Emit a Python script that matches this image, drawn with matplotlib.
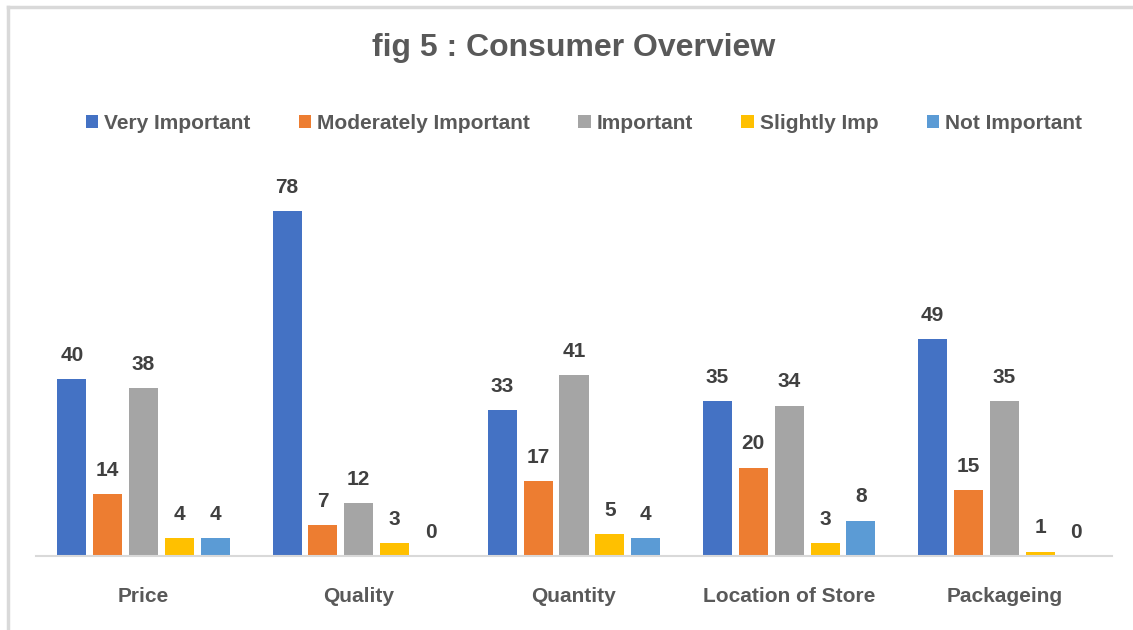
import numpy as np
import matplotlib.pyplot as plt
from matplotlib import font_manager

categories = ['Price', 'Quality', 'Quantity', 'Location of Store', 'Packageing']
series_names = ['Very Important', 'Moderately Important', 'Important', 'Slightly Imp', 'Not Important']
very_important = [40, 78, 33, 35, 49]
moderately_important = [14, 7, 17, 20, 15]
important = [38, 12, 41, 34, 35]
slightly_imp = [4, 3, 5, 3, 1]
not_important = [4, 0, 4, 8, 0]
colors = ['#4472C4', '#ED7D31', '#A5A5A5', '#FFC000', '#5B9BD5']

names = {f.name for f in font_manager.fontManager.ttflist}
fam = 'Liberation Sans Narrow' if 'Liberation Sans Narrow' in names else 'Liberation Sans'
plt.rcParams['font.family'] = [fam, 'DejaVu Sans']
plt.rcParams['font.weight'] = 'bold'
txt = '#595959'

fig = plt.figure(figsize=(11.33, 6.3), dpi=100)
ax = fig.add_axes([36 / 1133, 74 / 630, 1076 / 1133, 398 / 630])

series = [very_important, moderately_important, important, slightly_imp, not_important]
x = np.arange(len(categories))
w = 0.135
step = 0.1665
for i, (vals, name, c) in enumerate(zip(series, series_names, colors)):
    pos = x + (i - 2) * step
    bars = ax.bar(pos, vals, width=w, color=c, label=name, zorder=2)
    for b, v in zip(bars, vals):
        ax.text(b.get_x() + b.get_width() / 2, v + 3.2, str(v), ha='center', va='bottom',
                fontsize=15, color='#404040', fontweight='bold')

ax.set_xlim(-0.5, len(categories) - 0.5)
ax.set_ylim(0, 90)
ax.set_yticks([])
ax.set_xticks(x)
ax.set_xticklabels(categories, fontsize=15, color=txt, fontweight='bold')
ax.tick_params(axis='x', length=0, pad=22)
for s in ['top', 'right', 'left']:
    ax.spines[s].set_visible(False)
ax.spines['bottom'].set_color('#D9D9D9')
ax.spines['bottom'].set_linewidth(1.5)

fig.text(574 / 1133, 1 - 48 / 630, 'fig 5 : Consumer Overview', ha='center', va='center',
         fontsize=23, color=txt, fontweight='bold')

leg = fig.legend(loc='center', bbox_to_anchor=(584 / 1133, 1 - 123 / 630), ncol=5, frameon=False,
                 fontsize=15, handlelength=0.6, handleheight=0.6, handletextpad=0.3,
                 columnspacing=2.3)
for t in leg.get_texts():
    t.set_color(txt)

# outer chart frame (top and left edges visible)
fig.add_artist(plt.Line2D([8 / 1133, 1], [1 - 7 / 630, 1 - 7 / 630], color='#D9D9D9', lw=2.5))
fig.add_artist(plt.Line2D([8 / 1133, 8 / 1133], [0, 1 - 7 / 630], color='#D9D9D9', lw=2.5))

fig.savefig('out.png', dpi=100)
